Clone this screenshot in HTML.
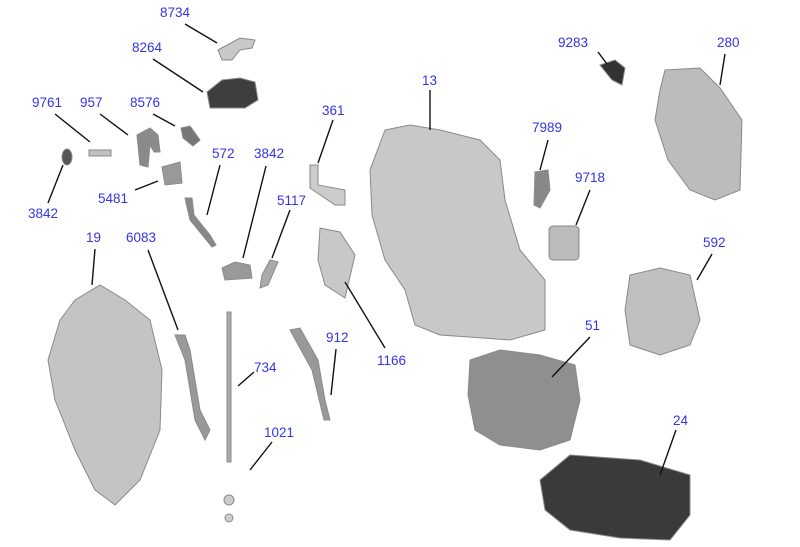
<!DOCTYPE html>
<html><head><style>
html,body{margin:0;padding:0;background:#fff;width:800px;height:547px;overflow:hidden}
svg text{font-family:"Liberation Sans",sans-serif;font-size:13.5px;fill:#3434e6}
</style></head><body>
<svg width="800" height="547" viewBox="0 0 800 547" xmlns="http://www.w3.org/2000/svg">
<g fill="#b4b4b4" stroke="#8a8a8a" stroke-width="1">
<path d="M218 50 L240 38 L255 40 L252 48 L240 50 L232 60 L222 60 Z" fill="#c8c8c8"/>
<path d="M207 92 L222 80 L240 78 L255 82 L258 100 L245 108 L210 108 Z" fill="#3e3e3e"/>
<rect x="89" y="150" width="22" height="6" fill="#c0c0c0"/>
<ellipse cx="67" cy="157" rx="5" ry="8" fill="#555"/>
<path d="M137 135 L150 128 L158 135 L160 152 L154 152 L150 145 L148 167 L140 165 Z" fill="#8a8a8a"/>
<path d="M181 128 L190 126 L200 140 L193 146 L183 138 Z" fill="#777"/>
<path d="M162 167 L180 162 L182 183 L165 185 Z" fill="#999"/>
<path d="M185 198 L192 198 L194 215 L210 235 L216 245 L212 247 L190 220 Z" fill="#888"/>
<path d="M310 165 L318 165 L318 185 L345 190 L345 205 L335 205 L310 188 Z" fill="#ccc"/>
<path d="M222 268 L235 262 L250 265 L252 278 L225 280 Z" fill="#999"/>
<path d="M262 275 L270 260 L278 262 L268 285 L260 288 Z" fill="#aaa"/>
<path d="M320 228 L340 232 L355 255 L345 298 L325 285 L318 260 Z" fill="#c8c8c8"/>
<path d="M385 130 L410 125 L440 130 L480 140 L500 160 L505 200 L520 250 L545 280 L545 330 L510 340 L440 335 L415 325 L405 290 L385 260 L372 215 L370 170 Z" fill="#c8c8c8"/>
<path d="M535 172 L548 170 L550 190 L540 208 L534 205 Z" fill="#888"/>
<path d="M600 65 L615 60 L625 68 L622 85 L612 80 Z" fill="#333"/>
<path d="M665 70 L700 68 L720 88 L742 120 L740 190 L715 200 L690 190 L668 160 L655 120 L660 90 Z" fill="#bcbcbc"/>
<rect x="549" y="226" width="30" height="34" rx="4" fill="#bbb"/>
<path d="M630 275 L660 268 L690 275 L700 320 L690 345 L660 355 L630 345 L625 310 Z" fill="#c0c0c0"/>
<path d="M60 320 L75 300 L100 285 L125 300 L150 320 L162 370 L160 430 L140 480 L115 505 L95 490 L75 450 L55 400 L48 360 Z" fill="#c4c4c4"/>
<path d="M175 335 L185 335 L190 350 L200 410 L210 430 L205 440 L195 420 L185 360 Z" fill="#999"/>
<rect x="227" y="312" width="4" height="150" fill="#aaa"/>
<circle cx="229" cy="500" r="5" fill="#ccc"/>
<circle cx="229" cy="518" r="4" fill="#ccc"/>
<path d="M290 330 L300 328 L318 360 L325 400 L330 420 L324 420 L312 370 Z" fill="#999"/>
<path d="M470 360 L500 350 L540 355 L575 365 L580 400 L570 440 L540 450 L500 445 L475 430 L468 395 Z" fill="#8f8f8f"/>
<path d="M540 480 L570 455 L640 460 L690 475 L690 515 L670 540 L620 538 L570 530 L545 510 Z" fill="#3a3a3a"/>
</g>
<g stroke="#111" stroke-width="1.4">
<line x1="185" y1="24" x2="217" y2="43"/>
<line x1="153" y1="59" x2="203" y2="92"/>
<line x1="598" y1="52" x2="607" y2="64"/>
<line x1="725" y1="54" x2="720" y2="85"/>
<line x1="430" y1="90" x2="430" y2="130"/>
<line x1="55" y1="114" x2="90" y2="142"/>
<line x1="100" y1="114" x2="128" y2="135"/>
<line x1="153" y1="114" x2="175" y2="126"/>
<line x1="333" y1="120" x2="318" y2="163"/>
<line x1="220" y1="165" x2="207" y2="215"/>
<line x1="266" y1="166" x2="243" y2="258"/>
<line x1="548" y1="140" x2="540" y2="170"/>
<line x1="590" y1="190" x2="576" y2="225"/>
<line x1="48" y1="203" x2="63" y2="165"/>
<line x1="135" y1="190" x2="158" y2="181"/>
<line x1="290" y1="210" x2="272" y2="258"/>
<line x1="95" y1="249" x2="92" y2="285"/>
<line x1="148" y1="250" x2="178" y2="330"/>
<line x1="712" y1="254" x2="697" y2="280"/>
<line x1="385" y1="348" x2="345" y2="282"/>
<line x1="590" y1="337" x2="552" y2="377"/>
<line x1="254" y1="372" x2="238" y2="386"/>
<line x1="336" y1="349" x2="331" y2="395"/>
<line x1="272" y1="442" x2="250" y2="470"/>
<line x1="676" y1="430" x2="660" y2="475"/>
</g>
<g>
<text x="160" y="17">8734</text>
<text x="132" y="52">8264</text>
<text x="558" y="47">9283</text>
<text x="717" y="47">280</text>
<text x="422" y="85">13</text>
<text x="32" y="107">9761</text>
<text x="80" y="107">957</text>
<text x="130" y="107">8576</text>
<text x="322" y="115">361</text>
<text x="212" y="158">572</text>
<text x="254" y="158">3842</text>
<text x="532" y="132">7989</text>
<text x="575" y="182">9718</text>
<text x="28" y="218">3842</text>
<text x="98" y="203">5481</text>
<text x="277" y="205">5117</text>
<text x="86" y="242">19</text>
<text x="126" y="242">6083</text>
<text x="703" y="247">592</text>
<text x="377" y="365">1166</text>
<text x="585" y="330">51</text>
<text x="254" y="372">734</text>
<text x="326" y="342">912</text>
<text x="264" y="437">1021</text>
<text x="673" y="425">24</text>
</g>
</svg>
</body></html>
